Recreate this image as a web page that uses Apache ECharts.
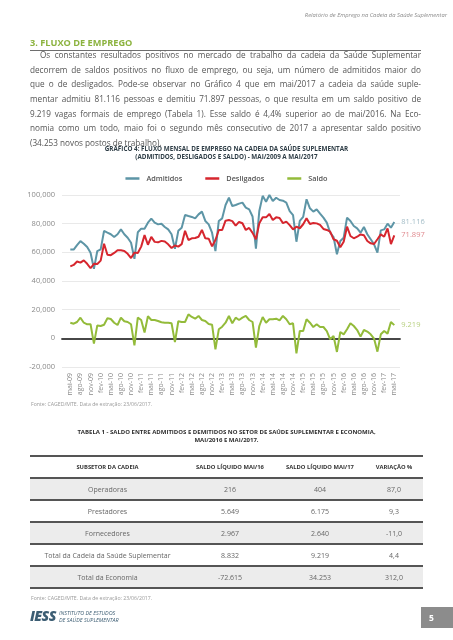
<!DOCTYPE html>
<html><head><meta charset="utf-8">
<script src="https://cdn.jsdelivr.net/npm/echarts@6/dist/echarts.min.js"></script>
<style>
html,body{margin:0;padding:0;background:#fff;}
body{width:453px;height:640px;position:relative;overflow:hidden;font-family:"Open Sans",sans-serif;}
#chart{position:absolute;left:0;top:0;width:453px;height:640px;}
.abs{position:absolute;}
#hdr{right:6px;top:10px;font-size:5.8px;font-style:italic;color:#8a8a8a;line-height:10px;}
#h3{left:30px;top:37.5px;font-size:9.2px;font-weight:700;color:#8cb33f;line-height:10px;}
#rule{left:30px;top:50.3px;width:391px;height:1px;background:#6e6e6e;}
#para{left:30px;top:48.2px;width:391px;font-size:8.2px;line-height:14.6px;color:#555;}
#para div{white-space:nowrap;}
.src{font-size:5.2px;color:#9a9a9a;left:31px;}
#ttl{left:0;width:453px;text-align:center;top:427.5px;font-size:6px;font-weight:700;color:#2f2f2f;line-height:8.5px;}
.hline{position:absolute;left:30px;width:393px;height:1.5px;background:#555;}
.row{position:absolute;left:30px;width:393px;height:22px;display:flex;align-items:center;}
.row div{text-align:center;}
.hdrrow div{font-size:5.8px;font-weight:700;color:#333;}
.datarow div{font-size:7px;color:#666;}
#logo{left:30px;top:607px;}
#pg{left:421px;top:607px;width:32px;height:21px;background:#8c8c8c;color:#fff;font-weight:700;font-size:8.5px;line-height:21px;text-indent:8px;}
</style></head>
<body>
<div id="chart"></div>
<div class="abs" id="hdr">Relatório de Emprego na Cadeia da Saúde Suplementar</div>
<div class="abs" id="h3">3. FLUXO DE EMPREGO</div>
<div class="abs" id="rule"></div>
<div class="abs" id="para">
<div data-indent="10">Os constantes resultados positivos no mercado de trabalho da cadeia da Saúde Suplementar</div>
<div>decorrem de saldos positivos no fluxo de emprego, ou seja, um número de admitidos maior do</div>
<div>que o de desligados. Pode-se observar no Gráfico 4 que em mai/2017 a cadeia da saúde suple-</div>
<div>mentar admitiu 81.116 pessoas e demitiu 71.897 pessoas, o que resulta em um saldo positivo de</div>
<div>9.219 vagas formais de emprego (Tabela 1). Esse saldo é 4,4% superior ao de mai/2016. Na Eco-</div>
<div>nomia como um todo, maio foi o segundo mês consecutivo de 2017 a apresentar saldo positivo</div>
<div class="last">(34.253 novos postos de trabalho).</div>
</div>
<div class="abs src" style="top:400px;">Fonte: CAGED/MTE. Data de extração: 23/06/2017.</div>
<div class="abs" id="ttl">TABELA 1 - SALDO ENTRE ADMITIDOS E DEMITIDOS NO SETOR DE SAÚDE SUPLEMENTAR E ECONOMIA,<br>MAI/2016 E MAI/2017.</div>
<div id="table"></div>
<div class="abs src" style="top:594px;">Fonte: CAGED/MTE. Data de extração: 23/06/2017.</div>
<div class="abs" id="logo">
  <span style="position:absolute;left:0;top:0;font-size:14px;font-weight:800;font-style:italic;color:#3c5d73;letter-spacing:-0.6px;line-height:17px;">IESS</span>
  <span style="position:absolute;left:29px;top:3px;font-size:5.4px;font-style:italic;color:#3c5d73;line-height:6.6px;white-space:nowrap;">INSTITUTO DE ESTUDOS<br>DE SAÚDE SUPLEMENTAR</span>
</div>
<div class="abs" id="pg">5</div>
<script>
// ---------- data ----------
const monthNames = ['jan','fev','mar','abr','mai','jun','jul','ago','set','out','nov','dez'];
const startYear = 2009, startMonth = 4; // mai/2009
const monthCount = 97;                  // mai/2009 .. mai/2017
const categories = [];
for (let i = 0; i < monthCount; i++) {
  const m = (startMonth + i) % 12, y = startYear + Math.floor((startMonth + i) / 12);
  categories.push(monthNames[m] + '-' + String(y).slice(2));
}
const admitidos = [61900, 61900, 65000, 67800, 66000, 63700, 59700, 48500, 60900, 62100,
  74900, 73700, 72600, 70700, 72600, 76000, 72600, 70200, 66700, 55500,
  74000, 76500, 76500, 80700, 83500, 80700, 79500, 80000, 77700, 76000,
  72600, 62500, 75000, 77200, 86000, 85300, 84700, 83700, 86500, 88400,
  81900, 79500, 73700, 60900, 81900, 83700, 93000, 98100, 92300, 93000,
  94000, 94700, 91200, 90000, 85000, 62600, 88800, 99400, 95300, 100000,
  95800, 98100, 96500, 96000, 94700, 88800, 86000, 67400, 81900, 84700,
  97000, 90700, 88400, 90000, 87000, 84200, 80700, 73700, 70700, 58600,
  67900, 70200, 84200, 81900, 78400, 76700, 73700, 77700, 72600, 69100,
  65600, 59800, 75300, 76000, 80000, 77200, 81116];
const desligados = [50200, 51200, 53600, 52800, 54400, 52000, 48900, 52000, 51900, 54200,
  66000, 58300, 58000, 59600, 61500, 61400, 61000, 59000, 56000, 59800,
  59500, 64000, 72000, 65300, 70800, 67300, 67000, 68000, 67500, 65600,
  63000, 64800, 64000, 65700, 75000, 68600, 69800, 70000, 70900, 75600,
  69800, 69500, 64200, 68600, 75600, 75600, 82100, 82500, 81800, 78600,
  81200, 80300, 75600, 77000, 73600, 69100, 80200, 84500, 84400, 86700,
  82500, 84400, 84000, 80400, 81400, 79000, 76000, 77900, 76800, 79600,
  83700, 79800, 80500, 80200, 79100, 76300, 75600, 74400, 69100, 68100,
  63500, 67400, 77900, 71400, 69800, 70900, 72500, 71900, 67900, 66300,
  65800, 69100, 72500, 70900, 76700, 65800, 71897];
const saldo = [10900, 10200, 11400, 14400, 10900, 9800, 9800, -3700, 9000, 8600,
  9500, 14000, 13500, 10900, 9300, 14400, 11900, 11400, 9800, -4900,
  14400, 12800, 4000, 15400, 12800, 12800, 12100, 11200, 10900, 10900,
  10500, -2600, 11900, 11400, 11400, 16700, 14900, 13700, 15600, 12800,
  12100, 10000, 9500, -7700, 6300, 8100, 10900, 15600, 10500, 14400,
  12800, 14400, 15600, 12800, 11400, -6500, 8600, 14900, 10900, 13300,
  13300, 13700, 12500, 15600, 13300, 9800, 10500, -10500, 5100, 5100,
  13300, 10900, 7900, 9800, 7900, 7900, 5100, -700, 1600, -9500,
  4400, 2800, 6300, 10500, 8600, 5800, 1200, 5800, 4700, 2800,
  -200, -9300, 2800, 5100, 3300, 11400, 9219];
const yTicks = {min: -20000, max: 100000, step: 20000};

const tableHeader = ['SUBSETOR DA CADEIA', 'SALDO LÍQUIDO MAI/16', 'SALDO LÍQUIDO MAI/17', 'VARIAÇÃO %'];
const subsetores = ['Operadoras', 'Prestadores', 'Fornecedores', 'Total da Cadeia da Saúde Suplementar', 'Total da Economia'];
const saldoMai16 = ['216', '5.649', '2.967', '8.832', '-72.615'];
const saldoMai17 = ['404', '6.175', '2.640', '9.219', '34.253'];
const variacao = ['87,0', '9,3', '-11,0', '4,4', '312,0'];

// ---------- paragraph justification (fit each line to the column) ----------
function fitLines(){
  const W = 391;
  document.querySelectorAll('#para div').forEach(d => {
    const indent = parseFloat(d.getAttribute('data-indent') || '0');
    const txt = d.textContent;
    d.textContent = '';
    const span = document.createElement('span');
    span.textContent = txt;
    span.style.whiteSpace = 'nowrap';
    span.style.marginLeft = indent + 'px';
    d.appendChild(span);
    if (d.classList.contains('last')) return;
    const w = span.getBoundingClientRect().width;
    const spaces = (txt.match(/ /g) || []).length;
    if (spaces) span.style.wordSpacing = ((W - indent - w) / spaces) + 'px';
  });
}
fitLines();

// ---------- table ----------
(function(){
  const colW = [155, 90, 90, 58];
  let html = '';
  const top0 = 456, rh = 22;
  html += '<div class="row hdrrow" style="top:' + top0 + 'px">' + tableHeader.map((t,i)=>'<div style="width:'+colW[i]+'px">'+t+'</div>').join('') + '</div>';
  for (let r = 0; r < subsetores.length; r++) {
    const cells = [subsetores[r], saldoMai16[r], saldoMai17[r], variacao[r]];
    const bg = r % 2 === 0 ? '#ececec' : '#ffffff';
    html += '<div class="row datarow" style="top:' + (top0 + rh*(r+1)) + 'px;background:' + bg + '">' + cells.map((t,i)=>'<div style="width:'+colW[i]+'px">'+t+'</div>').join('') + '</div>';
  }
  for (let r = 0; r <= subsetores.length + 1; r++) {
    html += '<div class="hline" style="top:' + (top0 + rh*r - 0.75) + 'px"></div>';
  }
  document.getElementById('table').innerHTML = html;
})();

// ---------- chart ----------
function fmt(v, sep){ return String(v).replace(/\B(?=(\d{3})+(?!\d))/g, sep); }
const FONT = '"Open Sans", sans-serif';
const chart = echarts.init(document.getElementById('chart'), null, {renderer: 'canvas'});
const cBlue = '#5d95a6', cRed = '#d6262e', cGreen = '#93bb3a';
function mkSeries(name, data, color, labelColor){
  return {
    name, type: 'line', xAxisIndex: 1, yAxisIndex: 1, data,
    symbol: 'none', smooth: false,
    lineStyle: {width: 2, color}, itemStyle: {color},
    emphasis: {disabled: true},
    endLabel: {show: true, formatter: p => fmt(p.value, '.'), color: labelColor, fontSize: 7.5, fontFamily: FONT, distance: 7}
  };
}
chart.setOption({
  animation: false,
  textStyle: {fontFamily: FONT},
  title: {
    text: 'GRÁFICO 4: FLUXO MENSAL DE EMPREGO NA CADEIA DA SAÚDE SUPLEMENTAR\n(ADMITIDOS, DESLIGADOS E SALDO) - MAI/2009 A MAI/2017',
    left: 'center', top: 145, padding: 0,
    textStyle: {fontSize: 6.3, fontWeight: 'bold', color: '#2e3d46', lineHeight: 8.3, fontFamily: FONT, align: 'center'}
  },
  legend: {
    top: 170, left: 'center', icon: 'rect', itemWidth: 14, itemHeight: 2.5, itemGap: 23,
    data: ['Admitidos', 'Desligados', 'Saldo'],
    textStyle: {color: '#555', fontSize: 7.3, fontWeight: 600, fontFamily: FONT, padding: [0,0,0,2]}
  },
  grid: [
    {left: 62, right: 53, top: 195, height: 172, outerBoundsMode: 'none', containLabel: false},
    {left: 70.3, right: 58.7, top: 195, height: 172, outerBoundsMode: 'none', containLabel: false}
  ],
  xAxis: [
    {gridIndex: 0, type: 'value', min: 0, max: 1,
     axisLine: {show: true, onZero: true, lineStyle: {color: '#474747', width: 1.8}},
     axisLabel: {show: false}, axisTick: {show: false}, splitLine: {show: false}},
    {gridIndex: 1, type: 'category', data: categories, boundaryGap: false,
     axisLine: {show: false, onZero: false}, axisTick: {show: false},
     axisLabel: {interval: 2, rotate: 90, color: '#8a8a8a', fontSize: 7, fontFamily: FONT, margin: 6}}
  ],
  yAxis: [
    {gridIndex: 0, type: 'value', min: yTicks.min, max: yTicks.max, interval: yTicks.step,
     axisLine: {show: false}, axisTick: {show: false},
     axisLabel: {formatter: v => (v < 0 ? '-' : '') + fmt(Math.abs(v), ','), color: '#8a8a8a', fontSize: 7.5, fontFamily: FONT, margin: 7},
     splitLine: {lineStyle: {color: '#e9e9e9', width: 1}}},
    {gridIndex: 1, type: 'value', min: yTicks.min, max: yTicks.max, interval: yTicks.step, show: false}
  ],
  series: [
    mkSeries('Admitidos', admitidos, cBlue, '#a3bdc7'),
    mkSeries('Desligados', desligados, cRed, '#e08a8f'),
    mkSeries('Saldo', saldo, cGreen, '#b8d080')
  ]
});
</script>
</body></html>
